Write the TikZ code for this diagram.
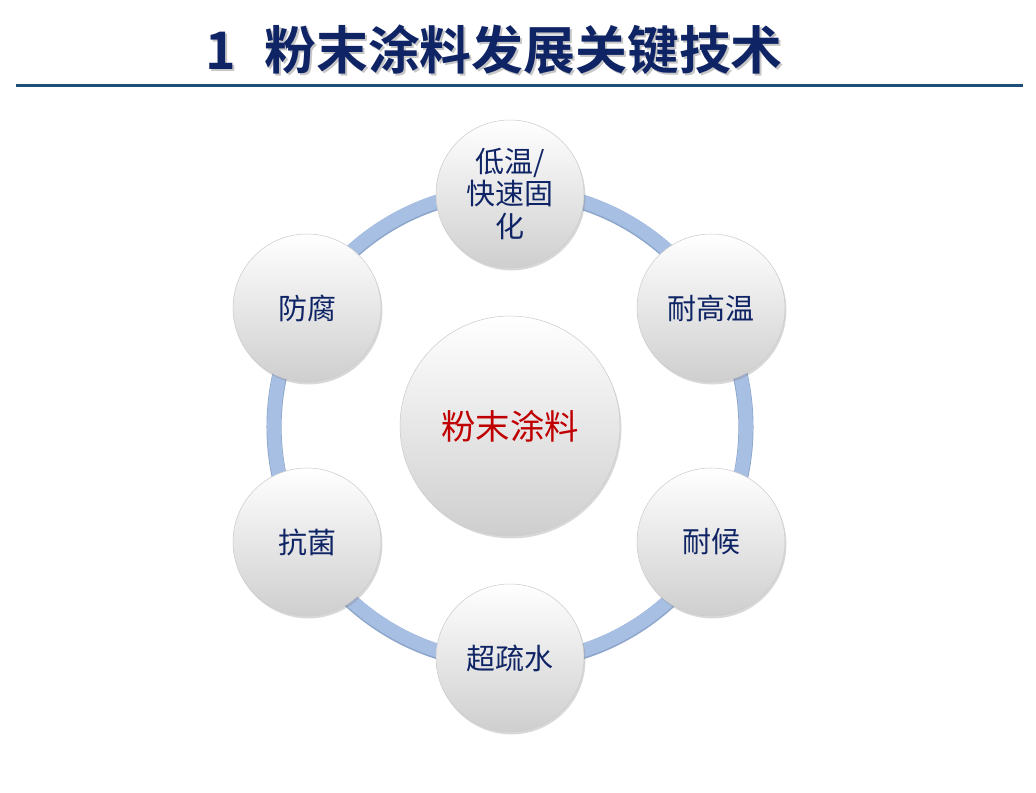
\documentclass[tikz,border=0pt]{standalone}
\usepackage{fontspec}
\newfontfamily\cjk{Noto Sans CJK SC}[BoldFont={Noto Sans CJK SC Bold}]
\usetikzlibrary{shadows}
\definecolor{navy}{HTML}{0F2465}
\definecolor{rulecol}{HTML}{1F4E79}
\definecolor{ringblue}{HTML}{A7BFE3}
\definecolor{ringedge}{HTML}{8CA5CA}
\definecolor{corered}{HTML}{C00000}
\begin{document}
\begin{tikzpicture}[x=0.02cm,y=-0.02cm,
  ball/.style={circle, draw=gray!40, line width=0.3pt, top color=white, bottom color=gray!38,
    drop shadow={opacity=0.3, shadow xshift=0.8pt, shadow yshift=-1.4pt},
    align=center, inner sep=0pt, minimum size=2.96cm, text=navy,
    font=\cjk\fontsize{16.5}{18.7}\selectfont},
  titletext/.style={font=\cjk\bfseries\fontsize{29.5}{30}\selectfont}]
\fill[white] (0,0) rectangle (1036,793);
\useasboundingbox (0,0) rectangle (1036,793);
% title and rule
\node[titletext, text=gray!45] (titleshade) at (496,52) {1\hspace{0.55em}粉末涂料发展关键技术};
\node[titletext, text=navy] (title) at (494,50) {1\hspace{0.55em}粉末涂料发展关键技术};
\draw[rulecol, line width=1.7pt] (16,86) -- (1023,86);
% ring
\draw[ringedge, line width=8.6pt] (510,427) circle[radius=4.72cm];
\draw[ringblue, line width=7.8pt] (510,426) circle[radius=4.72cm];
% circles
\node[ball, minimum size=4.4cm, text=corered, font=\cjk\fontsize{19.6}{22}\selectfont] (core) at (510,426) {粉末涂料};
\node[ball] (cure) at (510,194) {低温/\\快速固\\化};
\node[ball] (heat) at (711,308) {耐高温};
\node[ball] (weather) at (711,542) {耐候};
\node[ball] (hydro) at (510,658) {超疏水};
\node[ball] (antibac) at (307,542) {抗菌};
\node[ball] (corr) at (307,308) {防腐};
\end{tikzpicture}
\end{document}
